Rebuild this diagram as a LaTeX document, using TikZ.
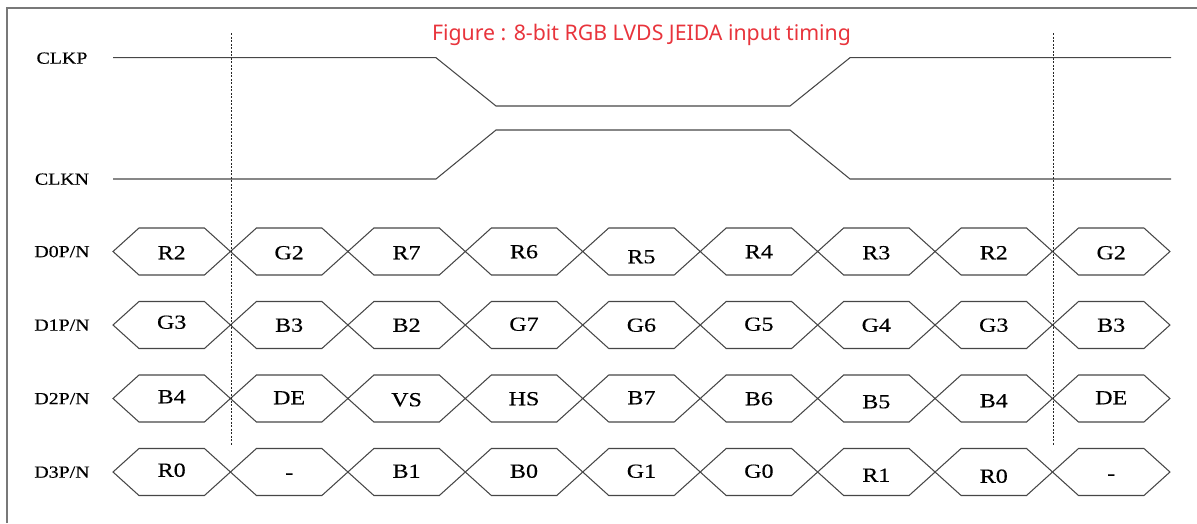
\documentclass[tikz,border=0pt]{standalone}
\usepackage{fontspec}
\setmainfont[FakeBold=0.35]{Liberation Serif}
\newfontfamily\titlefont{Noto Sans}
\definecolor{titlered}{RGB}{232,52,60}
\definecolor{linegray}{RGB}{70,70,70}
\definecolor{framegray}{RGB}{120,120,120}
\newcommand{\hstretch}[2]{\scalebox{#1}[1]{#2}}
\begin{document}
\begin{tikzpicture}[x=1pt,y=-1pt,
  sig/.style={draw=linegray,line width=1.05pt,line join=miter},
  hexcell/.style={draw=linegray,line width=1.05pt,line join=miter},
  celllabel/.style={font=\fontsize{20}{20}\selectfont, text height=13.5pt, text depth=0pt, inner sep=0pt},
  rowlabel/.style={font=\fontsize{17}{17}\selectfont, text height=11.4pt, text depth=0pt, inner sep=0pt},
  guide/.style={draw=black!85,line width=0.75pt,dash pattern=on 2pt off 1.5pt},
  frame/.style={draw=framegray,line width=1.5pt}]
\useasboundingbox (0,0) rectangle (1197,523);
% frame
\draw[frame] (7,523) -- (7,8) -- (1197,8);
% title
\node[text=titlered, font=\titlefont\fontsize{21.5}{21.5}\selectfont, inner sep=0pt] (title) at (641.5,35) {\hstretch{0.99}{Figure : 8-bit RGB LVDS JEIDA input timing}};
% row labels
\node[rowlabel] (lclkp) at (62,58) {\hstretch{1.17}{CLKP}};
\node[rowlabel] (lclkn) at (62,179) {\hstretch{1.17}{CLKN}};
\node[rowlabel] (ld0) at (62,251.5) {\hstretch{1.17}{D0P/N}};
\node[rowlabel] (ld1) at (62,325) {\hstretch{1.17}{D1P/N}};
\node[rowlabel] (ld2) at (62,398.5) {\hstretch{1.17}{D2P/N}};
\node[rowlabel] (ld3) at (62,472) {\hstretch{1.17}{D3P/N}};
% clock signals
\draw[sig] (113,57.7) -- (436,57.7) -- (496,106) -- (790,106) -- (850,57.7) -- (1171,57.7);
\draw[sig] (113,179) -- (436,179) -- (496,130) -- (790,130) -- (850,179) -- (1171,179);
% data hexagons
\foreach \yy in {251.5,325,398.5,472}{
  \foreach \i in {0,...,8}{
    \pgfmathsetmacro{\xa}{113+117.44*\i}
    \pgfmathsetmacro{\xb}{\xa+117.44}
    \draw[hexcell] (\xa,\yy) -- (\xa+26,\yy-23.5) -- (\xb-26,\yy-23.5) -- (\xb,\yy) -- (\xb-26,\yy+23.5) -- (\xa+26,\yy+23.5) -- cycle;
  }
}
% guides
\draw[guide] (231,33) -- (231,446);
\draw[guide] (1053,33) -- (1053,446);
% cell labels: index/text/dy
\foreach \i/\t/\d [count=\n] in {0/R2/1,1/G2/1,2/R7/1,3/R6/0,4/R5/5,5/R4/0,6/R3/1,7/R2/1,8/G2/1}{
  \node[celllabel] (a\n) at (171.7+117.44*\i,251.5+\d) {\hstretch{1.2}{\t}};}
\foreach \i/\t/\d [count=\n] in {0/G3/-3,1/B3/0,2/B2/0,3/G7/-1,4/G6/0,5/G5/-1,6/G4/0,7/G3/0,8/B3/0}{
  \node[celllabel] (b\n) at (171.7+117.44*\i,325+\d) {\hstretch{1.2}{\t}};}
\foreach \i/\t/\d [count=\n] in {0/B4/-2,1/DE/-1,2/VS/1,3/HS/0,4/B7/-1,5/B6/0,6/B5/3,7/B4/2,8/DE/-1}{
  \node[celllabel] (c\n) at (171.7+117.44*\i,398.5+\d) {\hstretch{1.2}{\t}};}
\foreach \i/\t/\d [count=\n] in {0/R0/-2,1/-/0,2/B1/-1,3/B0/-1,4/G1/-1,5/G0/-1,6/R1/3,7/R0/4,8/-/1}{
  \node[celllabel] (e\n) at (171.7+117.44*\i,472+\d) {\hstretch{1.2}{\t}};}
\end{tikzpicture}
\end{document}
